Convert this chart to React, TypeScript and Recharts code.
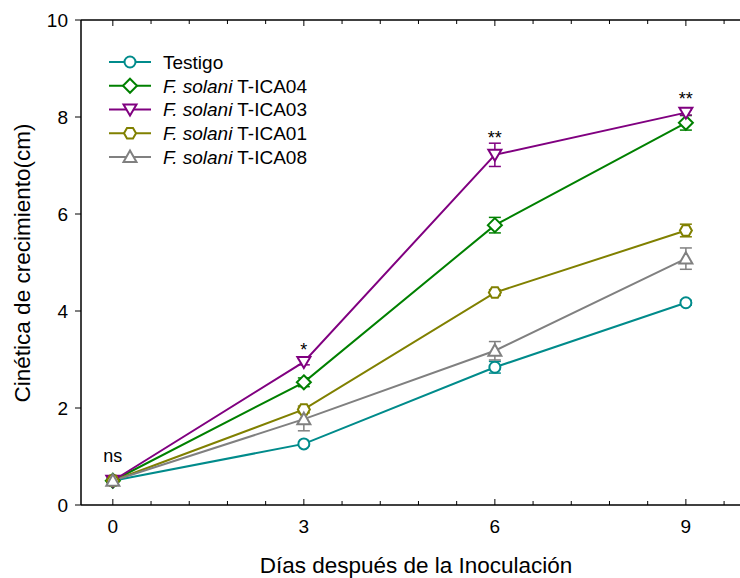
import React from "react";
import {
  ComposedChart,
  Line,
  Scatter,
  XAxis,
  YAxis,
  ErrorBar,
  Legend,
  Label,
} from "recharts";

const FONT = "'Liberation Sans', Arial, sans-serif";

// days after inoculation
const days = [0, 3, 6, 9];

// mean growth (cm) and standard error per treatment
const testigo = [0.5, 1.26, 2.84, 4.17];
const testigoErr = [0.04, 0.04, 0.12, 0.05];
const ica04 = [0.5, 2.53, 5.77, 7.88];
const ica04Err = [0.04, 0.09, 0.16, 0.15];
const ica03 = [0.5, 2.95, 7.22, 8.09];
const ica03Err = [0.04, 0.06, 0.24, 0.05];
const ica01 = [0.5, 1.97, 4.38, 5.66];
const ica01Err = [0.04, 0.07, 0.06, 0.13];
const ica08 = [0.5, 1.77, 3.18, 5.08];
const ica08Err = [0.05, 0.24, 0.19, 0.22];

// significance marks above each day
const noteDays = [0, 3, 6, 9];
const noteY = [0.89, 3.08, 7.44, 8.24];
const noteText = ["ns", "*", "**", "**"];

const xTicks = [0, 0.6, 1.2, 1.8, 2.4, 3, 3.6, 4.2, 4.8, 5.4, 6, 6.6, 7.2, 7.8, 8.4, 9, 9.6];
const yTicks = [0, 2, 4, 6, 8, 10];

const rows = days.map((d, i) => ({
  day: d,
  testigo: testigo[i],
  testigoErr: testigoErr[i],
  ica04: ica04[i],
  ica04Err: ica04Err[i],
  ica03: ica03[i],
  ica03Err: ica03Err[i],
  ica01: ica01[i],
  ica01Err: ica01Err[i],
  ica08: ica08[i],
  ica08Err: ica08Err[i],
}));

const notes = noteDays.map((d, i) => ({ day: d, y: noteY[i], text: noteText[i] }));

type Kind = "circle" | "diamond" | "down" | "hex" | "up";

const series: { key: string; color: string; kind: Kind; plain: string; italic?: string }[] = [
  { key: "testigo", color: "#008b8b", kind: "circle", plain: "Testigo" },
  { key: "ica04", color: "#008000", kind: "diamond", italic: "F. solani", plain: " T-ICA04" },
  { key: "ica03", color: "#800080", kind: "down", italic: "F. solani", plain: " T-ICA03" },
  { key: "ica01", color: "#808000", kind: "hex", italic: "F. solani", plain: " T-ICA01" },
  { key: "ica08", color: "#808080", kind: "up", italic: "F. solani", plain: " T-ICA08" },
];

function Marker({ kind, x, y, color }: { kind: Kind; x: number; y: number; color: string }) {
  const common = { fill: "#fff", stroke: color, strokeWidth: 2 };
  if (kind === "circle") return <circle cx={x} cy={y} r={5.5} {...common} />;
  let pts: number[][] = [];
  if (kind === "diamond") pts = [[0, -7], [7, 0], [0, 7], [-7, 0]];
  if (kind === "down") pts = [[-6.5, -5], [6.5, -5], [0, 6]];
  if (kind === "up") pts = [[0, -6.5], [6.5, 5], [-6.5, 5]];
  if (kind === "hex") {
    const r = 6;
    pts = [0, 60, 120, 180, 240, 300].map((a) => [
      r * Math.cos((a * Math.PI) / 180),
      r * Math.sin((a * Math.PI) / 180),
    ]);
  }
  return <polygon points={pts.map(([dx, dy]) => `${x + dx},${y + dy}`).join(" ")} {...common} />;
}

const isMajor = (v: number) => Math.abs(v / 3 - Math.round(v / 3)) < 1e-6;

// inward ticks on the bottom axis, labels only on 0, 3, 6, 9
function BottomTick(props: any) {
  const { x, y, payload } = props;
  const major = isMajor(payload.value);
  return (
    <g>
      <line x1={x} x2={x} y1={y} y2={y - (major ? 6 : 4)} stroke="#000" strokeWidth={1} />
      {major && (
        <text x={x} y={y + 28} textAnchor="middle" fontSize={19} fontFamily={FONT} fill="#000">
          {Math.round(payload.value)}
        </text>
      )}
    </g>
  );
}

function TopTick(props: any) {
  const { x, y, payload } = props;
  const major = isMajor(payload.value);
  return <line x1={x} x2={x} y1={y} y2={y + (major ? 6 : 4)} stroke="#000" strokeWidth={1} />;
}

function LegendBox() {
  return (
    <svg width={280} height={130} style={{ display: "block" }}>
      {series.map((s, i) => {
        const cy = 12 + i * 23.75;
        return (
          <g key={s.key}>
            <line x1={0} x2={42} y1={cy} y2={cy} stroke={s.color} strokeWidth={2} />
            <Marker kind={s.kind} x={21} y={cy} color={s.color} />
            <text x={54} y={cy + 6.8} fontSize={19} fontFamily={FONT} fill="#000">
              {s.italic && <tspan fontStyle="italic">{s.italic}</tspan>}
              {s.plain}
            </text>
          </g>
        );
      })}
    </svg>
  );
}

function NoteShape(props: any) {
  const { cx, cy, payload } = props;
  return (
    <text x={cx} y={cy} textAnchor="middle" fontSize={18} fontFamily={FONT} fill="#000">
      {payload.text}
    </text>
  );
}

export default function App() {
  return (
    <div style={{ position: "absolute", left: 0, top: 0, background: "#fff" }}>
      <ComposedChart
        width={740}
        height={578}
        data={rows}
        margin={{ top: 0, right: 0, bottom: 0, left: 0 }}
      >
        <XAxis
          dataKey="day"
          type="number"
          domain={[-0.5, 9.85]}
          ticks={xTicks}
          interval={0}
          height={73}
          tickSize={0}
          tickMargin={0}
          tickLine={false}
          tick={<BottomTick />}
          axisLine={{ stroke: "#000", strokeWidth: 1.5 }}
        >
          <Label
            content={() => (
              <text x={416} y={573} textAnchor="middle" fontSize={22.5} fontFamily={FONT} fill="#000">
                Días después de la Inoculación
              </text>
            )}
          />
        </XAxis>
        <XAxis
          xAxisId="top"
          orientation="top"
          dataKey="day"
          type="number"
          domain={[-0.5, 9.85]}
          ticks={xTicks}
          interval={0}
          height={20}
          tickSize={0}
          tickMargin={0}
          tickLine={false}
          tick={<TopTick />}
          axisLine={{ stroke: "#000", strokeWidth: 1.5 }}
        />
        <YAxis
          type="number"
          domain={[0, 10]}
          ticks={yTicks}
          width={81}
          tickSize={6}
          tickMargin={7}
          tickLine={{ stroke: "#000" }}
          axisLine={{ stroke: "#000", strokeWidth: 1.5 }}
          tick={{ fill: "#000", fontSize: 19, fontFamily: FONT }}
        >
          <Label
            content={() => (
              <text
                x={30}
                y={263}
                transform="rotate(-90 30 263)"
                textAnchor="middle"
                fontSize={22.5}
                fontFamily={FONT}
                fill="#000"
              >
                Cinética de crecimiento(cm)
              </text>
            )}
          />
        </YAxis>
        <Legend
          layout="vertical"
          align="center"
          verticalAlign="middle"
          wrapperStyle={{ left: 109, top: 50, width: 280 }}
          content={() => <LegendBox />}
        />
        {series.map((s) => (
          <Line
            key={s.key}
            dataKey={s.key}
            stroke={s.color}
            strokeWidth={2}
            isAnimationActive={false}
            dot={(p: any) => (
              <Marker key={`${s.key}-${p.index}`} kind={s.kind} x={p.cx} y={p.cy} color={s.color} />
            )}
            activeDot={false}
          >
            <ErrorBar
              dataKey={`${s.key}Err`}
              direction="y"
              width={6}
              stroke={s.color}
              strokeWidth={1.5}
            />
          </Line>
        ))}
        <Scatter data={notes} dataKey="y" isAnimationActive={false} shape={<NoteShape />} />
      </ComposedChart>
    </div>
  );
}
